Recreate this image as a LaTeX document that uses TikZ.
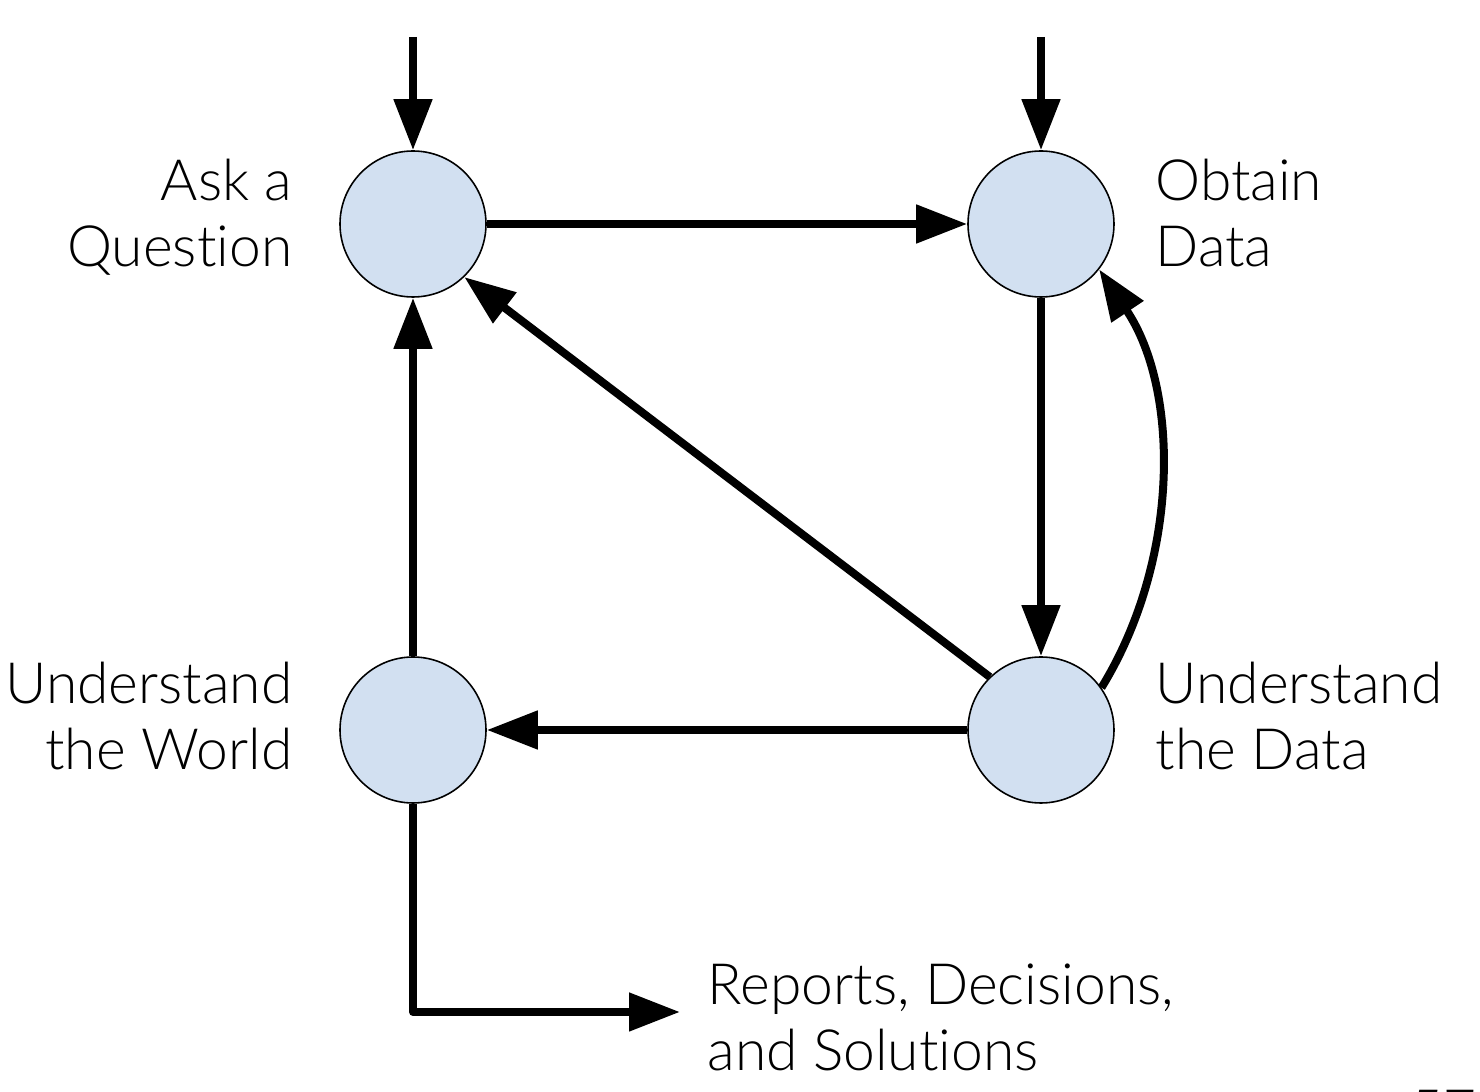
\documentclass[tikz,border=0pt]{standalone}
\usepackage{fontspec}
\setmainfont{Lato Light}[Ligatures={NoCommon}]
\usetikzlibrary{arrows.meta}
\definecolor{nodeblue}{RGB}{210,224,241}
\tikzset{
  stage/.style={circle, draw=black, line width=0.45pt, fill=nodeblue, minimum size=1.46cm, inner sep=0pt},
  flow/.style={line width=0.08cm, -{Triangle[length=0.51cm, width=0.37cm]}, line join=round},
  label/.style={inner sep=0pt, font=\fontsize{16.2}{19}\selectfont},
}
\begin{document}
\begin{tikzpicture}
\useasboundingbox (0,0) rectangle (14.8,-10.92);
\node[stage] (aq) at (4.13,-2.24) {};
\node[stage] (od) at (10.41,-2.24) {};
\node[stage] (uw) at (4.13,-7.30) {};
\node[stage] (ud) at (10.41,-7.30) {};

\node[label, anchor=base east, align=right] (taq) at (2.93,-2.67) {Ask a\\Question};
\node[label, anchor=base west, align=left] (tod) at (11.55,-2.67) {Obtain\\Data};
\node[label, anchor=base east, align=right] (tuw) at (2.93,-7.70) {Understand\\the World};
\node[label, anchor=base west, align=left] (tud) at (11.55,-7.70) {Understand\\the Data};
\node[label, anchor=base west, align=left] (trep) at (7.07,-10.71) {Reports, Decisions,\\and Solutions};
\node[label, anchor=north west] (pg) at (14.10,-10.90) {57};

\coordinate (inq) at (4.13,-0.37);
\coordinate (ind) at (10.41,-0.37);
\coordinate (corner) at (4.13,-10.12);
\coordinate (out) at (6.80,-10.12);

\draw[flow] (inq) -- (aq.north);
\draw[flow] (ind) -- (od.north);
\draw[flow] (aq.east) -- (od.west);
\draw[flow] (od.south) -- (ud.north);
\draw[flow] (ud.west) -- (uw.east);
\draw[flow] (uw.north) -- (aq.south);
\draw[flow] (ud.134) -- (aq.-46);
\draw[flow] (ud.35) .. controls (11.8,-5.6) and (11.8,-3.9) .. (od.-38);
\draw[flow] (uw.south) -- (corner) -- (out);
\end{tikzpicture}
\end{document}
